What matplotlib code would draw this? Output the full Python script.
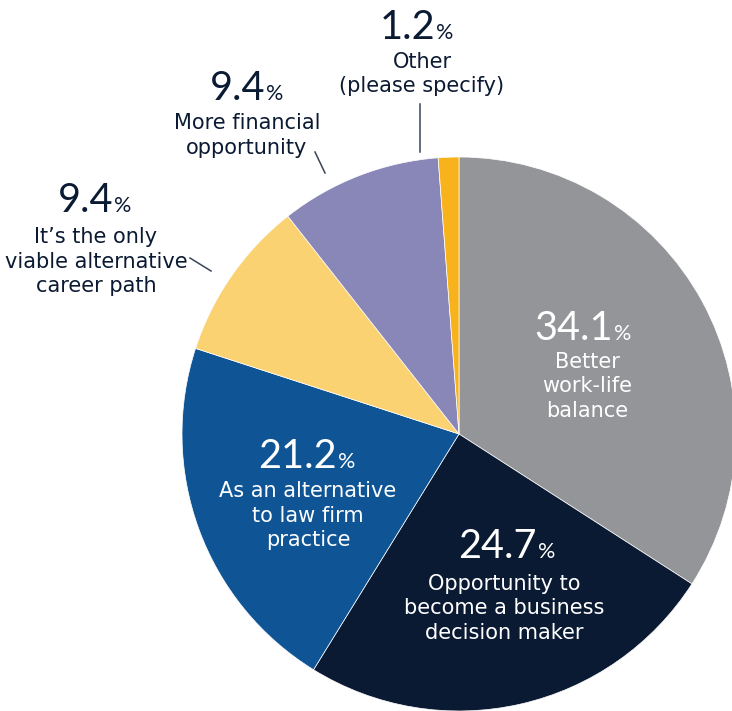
"""Pie chart: main reasons for choosing an in-house career."""

import matplotlib

matplotlib.use("Agg")
import matplotlib.pyplot as plt

SHARES = [34.1, 24.7, 21.2, 9.4, 9.4, 1.2]
LABELS = [
    "Better\nwork-life\nbalance",
    "Opportunity to\nbecome a business\ndecision maker",
    "As an alternative\nto law firm\npractice",
    "It\u2019s the only\nviable alternative\ncareer path",
    "More financial\nopportunity",
    "Other\n(please specify)",
]
COLORS = ["#939598", "#0b1a33", "#0f5596", "#fbd272", "#8887b8", "#f8b21b"]
INSIDE = [True, True, True, False, False, False]

NAVY = "#0b1a33"
LABEL_FONT = ["DejaVu Sans"]
NUM_FONT = ["Lato", "DejaVu Sans"]

W, H = 732, 711
CENTER = (459, 434)  # image pixels, y down
RADIUS = 277

# layout in image pixels (y down): number anchor (x, baseline), label centre x, first label baseline
NUM_ANCHOR = [(613, 340), (537, 558), (337, 468), (113, 212), (265, 100), (435, 39)]
LABEL_POS = [(587, 368), (504, 590), (308, 497), (96, 243), (247, 129), (422, 68)]
LINE_STEP = 24.5
LEADERS = {3: ((190, 258), (211, 271)), 4: ((315, 152), (325, 173)), 5: ((420, 104), (420, 152))}


def flip(y):
    return H - y


fig = plt.figure(figsize=(W / 100, H / 100), dpi=100)
ax = fig.add_axes([0, 0, 1, 1])
ax.pie(
    SHARES,
    colors=COLORS,
    startangle=90,
    counterclock=False,
    center=(CENTER[0], flip(CENTER[1])),
    radius=RADIUS,
    wedgeprops=dict(edgecolor="white", linewidth=0.5),
)
ax.set_xlim(0, W)
ax.set_ylim(0, H)
ax.set_aspect("auto")
ax.axis("off")

for i, (share, label) in enumerate(zip(SHARES, LABELS)):
    color = "white" if INSIDE[i] else NAVY
    nx, ny = NUM_ANCHOR[i]
    ax.text(nx, flip(ny), f"{share:.1f}", ha="right", va="baseline",
            fontsize=28.5, color=color, family=NUM_FONT)
    ax.text(nx + 1, flip(ny), "%", ha="left", va="baseline",
            fontsize=15.5, color=color, family=NUM_FONT)
    lx, ly = LABEL_POS[i]
    for k, line in enumerate(label.split("\n")):
        ax.text(lx, flip(ly + k * LINE_STEP), line, ha="center", va="baseline",
                fontsize=15, color=color, family=LABEL_FONT)

for (x0, y0), (x1, y1) in LEADERS.values():
    ax.plot([x0, x1], [flip(y0), flip(y1)], color="#3a4458", linewidth=1.1)

fig.savefig("out.png", dpi=100)
